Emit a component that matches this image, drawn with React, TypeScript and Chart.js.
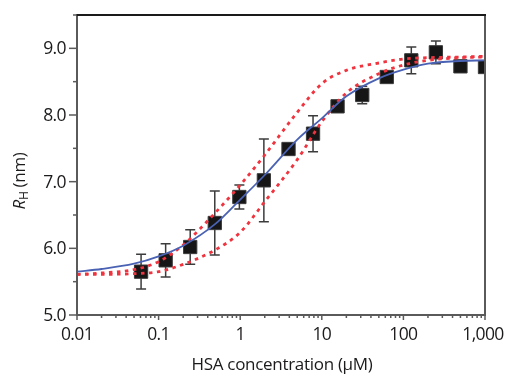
import React, { useEffect, useRef } from "react";
import { Chart, registerables } from "chart.js";

Chart.register(...registerables);

// ---- data ----
const concentrations = [0.061, 0.122, 0.244, 0.488, 0.977, 1.95, 3.91, 7.81, 15.6, 31.3, 62.5, 125, 250, 500, 1000];
const meanRH = [5.65, 5.82, 6.02, 6.38, 6.77, 7.02, 7.49, 7.72, 8.13, 8.3, 8.57, 8.82, 8.94, 8.73, 8.72];
const errRH = [0.26, 0.25, 0.26, 0.48, 0.18, 0.62, 0.08, 0.27, 0.05, 0.13, 0.04, 0.2, 0.17, 0.08, 0];

const curveX = [0.01, 0.02, 0.05, 0.1, 0.2, 0.5, 1, 2, 5, 10, 20, 50, 100, 200, 500, 1000];
const fitBlue = [5.65, 5.69, 5.77, 5.88, 6.04, 6.37, 6.73, 7.1, 7.63, 7.95, 8.28, 8.55, 8.68, 8.77, 8.81, 8.82];
const boundUpper = [5.61, 5.63, 5.68, 5.8, 6.05, 6.54, 6.95, 7.4, 8.04, 8.47, 8.67, 8.78, 8.84, 8.86, 8.87, 8.88];
const boundLower = [5.61, 5.61, 5.62, 5.65, 5.76, 5.98, 6.24, 6.7, 7.33, 7.9, 8.33, 8.62, 8.75, 8.82, 8.86, 8.87];

const xTickValues = [0.01, 0.1, 1, 10, 100, 1000];
const xTickLabels = ["0.01", "0.1", "1", "10", "100", "1,000"];
const xMinorMultipliers = [2, 3, 4, 5, 6, 7, 8, 9];
const yTickValues = [5, 6, 7, 8, 9];
const yTickLabels = ["5.0", "6.0", "7.0", "8.0", "9.0"];
const yMinorValues = [5.5, 6.5, 7.5, 8.5, 9.5];

const xTitle = "HSA concentration (\u00b5M)";
const yTitleMain = "R";
const yTitleSub = "H";
const yTitleRest = " (nm)";

const FONT = "'Open Sans', 'Noto Sans', sans-serif";
const TEXT = "#1c1a1b";

const decorPlugin = {
  id: "decor",
  beforeDatasetsDraw(chart: any) {
    const { ctx, scales } = chart;
    const xs = scales.x, ys = scales.y;
    ctx.save();
    ctx.strokeStyle = "#3c3c3c";
    ctx.lineWidth = 1.5;
    concentrations.forEach((c, i) => {
      const e = errRH[i];
      if (!e) return;
      const px = xs.getPixelForValue(c);
      const top = ys.getPixelForValue(meanRH[i] + e);
      const bot = ys.getPixelForValue(meanRH[i] - e);
      ctx.beginPath();
      ctx.moveTo(px, top);
      ctx.lineTo(px, bot);
      ctx.moveTo(px - 5, top);
      ctx.lineTo(px + 5, top);
      ctx.moveTo(px - 5, bot);
      ctx.lineTo(px + 5, bot);
      ctx.stroke();
    });
    ctx.restore();
  },
  afterDraw(chart: any) {
    const { ctx, chartArea, scales } = chart;
    const xs = scales.x, ys = scales.y;
    const { left, right, top, bottom } = chartArea;
    ctx.save();
    // frame
    ctx.lineWidth = 2;
    ctx.strokeStyle = "#5a5a5a";
    ctx.beginPath();
    ctx.moveTo(left, top);
    ctx.lineTo(left, bottom);
    ctx.lineTo(right, bottom);
    ctx.lineTo(right, top);
    ctx.stroke();
    ctx.strokeStyle = "#1a1a1a";
    ctx.beginPath();
    ctx.moveTo(left - 1, top);
    ctx.lineTo(right + 1, top);
    ctx.stroke();

    // y ticks
    ctx.strokeStyle = "#5a5a5a";
    ctx.lineWidth = 1.5;
    yTickValues.forEach((v) => {
      const py = ys.getPixelForValue(v);
      ctx.beginPath();
      ctx.moveTo(left - 8, py);
      ctx.lineTo(left, py);
      ctx.stroke();
    });
    yMinorValues.forEach((v) => {
      const py = ys.getPixelForValue(v);
      ctx.beginPath();
      ctx.moveTo(left - 4, py);
      ctx.lineTo(left, py);
      ctx.stroke();
    });
    // x ticks
    xTickValues.forEach((v, i) => {
      const px = xs.getPixelForValue(v);
      ctx.beginPath();
      ctx.moveTo(px, bottom);
      ctx.lineTo(px, bottom + 5);
      ctx.stroke();
      if (i < xTickValues.length - 1) {
        xMinorMultipliers.forEach((m) => {
          const mx = xs.getPixelForValue(v * m);
          ctx.beginPath();
          ctx.moveTo(mx, bottom);
          ctx.lineTo(mx, bottom + 3);
          ctx.stroke();
        });
      }
    });

    // labels
    ctx.fillStyle = TEXT;
    (ctx as any).letterSpacing = "-0.6px";
    ctx.font = `500 17.5px ${FONT}`;
    ctx.textAlign = "right";
    ctx.textBaseline = "middle";
    yTickValues.forEach((v, i) => {
      ctx.fillText(yTickLabels[i], left - 11, ys.getPixelForValue(v) + 1);
    });
    ctx.textAlign = "center";
    ctx.textBaseline = "middle";
    xTickValues.forEach((v, i) => {
      ctx.fillText(xTickLabels[i], xs.getPixelForValue(v) - (i === xTickValues.length - 1 ? 2 : 0), bottom + 20);
    });

    // x title
    (ctx as any).letterSpacing = "-0.3px";
    ctx.font = `17px ${FONT}`;
    ctx.fillText(xTitle, (left + right) / 2 + 1, bottom + 50);

    // y title
    ctx.translate(20, (top + bottom) / 2 + 16);
    ctx.rotate(-Math.PI / 2);
    const italic = `italic 17px ${FONT}`;
    const normal = `17px ${FONT}`;
    const sub = `12px ${FONT}`;
    ctx.font = italic;
    const w1 = ctx.measureText(yTitleMain).width;
    ctx.font = sub;
    const w2 = ctx.measureText(yTitleSub).width;
    ctx.font = normal;
    const w3 = ctx.measureText(yTitleRest).width;
    let x0 = -(w1 + w2 + w3) / 2;
    ctx.textAlign = "left";
    ctx.textBaseline = "middle";
    ctx.font = italic;
    ctx.fillText(yTitleMain, x0, 0);
    x0 += w1;
    ctx.font = sub;
    ctx.fillText(yTitleSub, x0, 5);
    x0 += w2;
    ctx.font = normal;
    ctx.fillText(yTitleRest, x0, 0);
    ctx.restore();
  },
};

export default function App() {
  const ref = useRef<HTMLCanvasElement>(null);
  useEffect(() => {
    const canvas = ref.current;
    if (!canvas) return;
    const toXY = (xs: number[], ys: number[]) => xs.map((x, i) => ({ x, y: ys[i] }));
    const chart = new Chart(canvas, {
      type: "scatter",
      data: {
        datasets: [
          {
            type: "line",
            label: "upper",
            data: toXY(curveX, boundUpper),
            borderColor: "#f0343f",
            borderWidth: 2.8,
            borderDash: [3.5, 4.5],
            pointRadius: 0,
            cubicInterpolationMode: "monotone",
            fill: false,
            order: 1,
          },
          {
            type: "line",
            label: "lower",
            data: toXY(curveX, boundLower),
            borderColor: "#f0343f",
            borderWidth: 2.8,
            borderDash: [3.5, 4.5],
            pointRadius: 0,
            cubicInterpolationMode: "monotone",
            fill: false,
            order: 1,
          },
          {
            type: "line",
            label: "fit",
            data: toXY(curveX, fitBlue),
            borderColor: "#4a62b4",
            borderWidth: 1.8,
            pointRadius: 0,
            cubicInterpolationMode: "monotone",
            fill: false,
            order: 0,
          },
          {
            type: "scatter",
            label: "data",
            data: toXY(concentrations, meanRH),
            pointStyle: "rect",
            pointRadius: 9.4,
            backgroundColor: "#161616",
            borderColor: "#3a3a3a",
            borderWidth: 1,
            order: 3,
          },
        ],
      } as any,
      options: {
        animation: false,
        responsive: false,
        maintainAspectRatio: false,
        layout: { padding: { top: 15, right: 20, left: 0, bottom: 0 } },
        plugins: { legend: { display: false }, tooltip: { enabled: false } },
        scales: {
          x: {
            type: "logarithmic",
            min: 0.01,
            max: 1000,
            grid: { display: false },
            border: { display: false },
            ticks: { display: false },
            afterFit: (s: any) => {
              s.height = 60;
            },
          },
          y: {
            type: "linear",
            min: 5,
            max: 9.5,
            grid: { display: false },
            border: { display: false },
            ticks: { display: false },
            afterFit: (s: any) => {
              s.width = 77;
            },
          },
        },
      } as any,
      plugins: [decorPlugin],
    });
    return () => chart.destroy();
  }, []);
  return (
    <div style={{ position: "fixed", left: 0, top: 0, width: 505, height: 375, background: "#fff" }}>
      <canvas ref={ref} width={505} height={375} />
    </div>
  );
}
